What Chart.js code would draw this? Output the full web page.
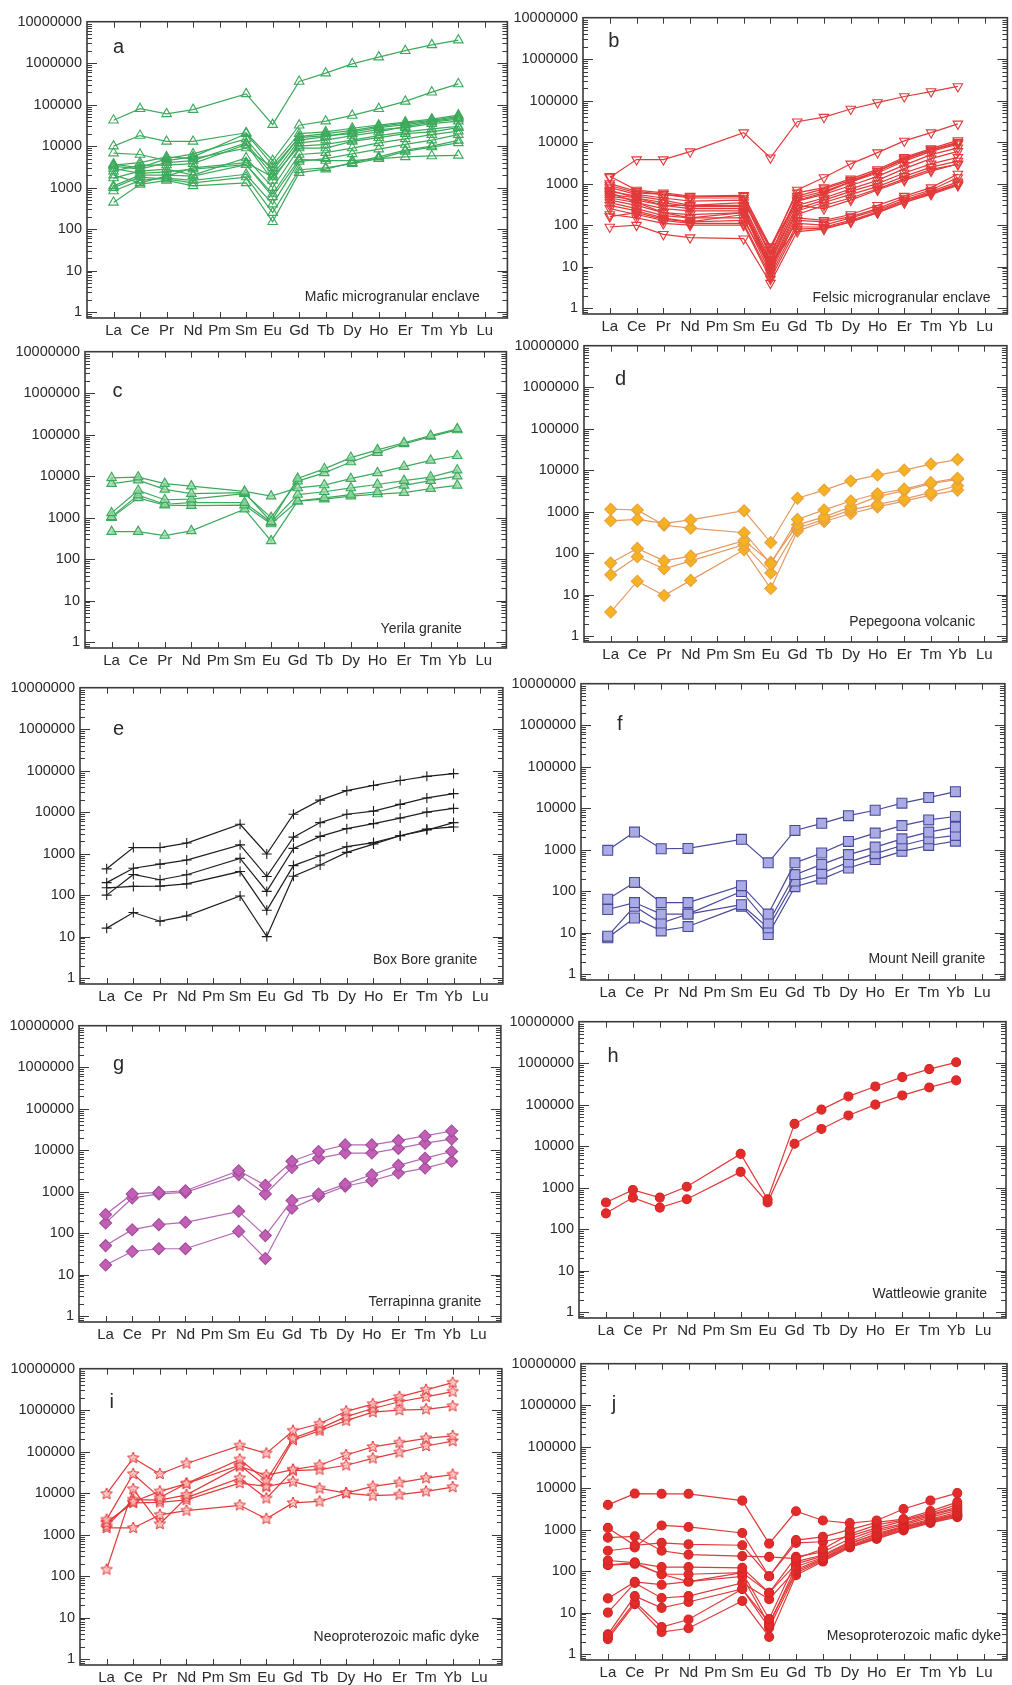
<!DOCTYPE html>
<html lang="en">
<head>
<meta charset="UTF-8">
<title>Chondrite-normalised REE patterns</title>
<script src="https://cdn.jsdelivr.net/npm/chart.js@4.4.1/dist/chart.umd.min.js"></script>
<style>
  body { margin: 0; background: #fff; }
  #wrap { position: relative; width: 1012px; height: 1685px; }
  #wrap canvas { position: absolute; }
</style>
</head>
<body>
<div id="wrap"></div>
<script>
/* x axis positions: all REE, Pm and Lu have no values */
const ELEMENTS = ['La', 'Ce', 'Pr', 'Nd', 'Pm', 'Sm', 'Eu', 'Gd', 'Tb', 'Dy', 'Ho', 'Er', 'Tm', 'Yb', 'Lu']
const MEASURED = ['La', 'Ce', 'Pr', 'Nd', 'Sm', 'Eu', 'Gd', 'Tb', 'Dy', 'Ho', 'Er', 'Tm', 'Yb']
const Y_TICKS = [1, 10, 100, 1000, 10000, 100000, 1000000, 10000000]

/* each row is one sample, values in MEASURED order */
const MAFIC_ENCLAVE = [
  [42000, 80000, 60000, 76000, 182000, 33000, 363000, 575000, 960000, 1400000, 2000000, 2760000, 3600000],
  [10000, 18000, 13000, 13000, 21000, 4500, 32000, 40000, 55000, 80000, 120000, 200000, 316000],
  [6800, 6300, 4500, 5500, 20000, 3500, 20000, 22000, 27000, 32000, 38000, 45000, 56000],
  [3700, 3000, 5000, 6500, 15000, 2500, 17000, 20000, 24000, 30000, 36000, 42000, 52000],
  [3300, 2800, 4000, 4500, 12000, 2000, 14000, 17000, 22000, 28000, 33000, 40000, 48000],
  [2500, 3500, 3500, 3800, 11000, 1500, 12000, 14000, 18000, 22000, 30000, 38000, 45000],
  [3500, 4000, 5500, 5000, 9000, 3000, 16000, 18000, 20000, 25000, 28000, 35000, 40000],
  [2000, 1300, 1900, 3000, 4000, 1800, 10000, 11000, 14000, 18000, 22000, 26000, 30000],
  [1700, 2500, 2800, 2000, 5200, 1000, 9000, 9000, 13000, 16000, 20000, 22000, 28000],
  [1100, 2000, 2000, 1900, 3600, 700, 6300, 7000, 9000, 12000, 15000, 19000, 23000],
  [830, 1500, 1700, 1500, 2100, 400, 4300, 5000, 6500, 8500, 11000, 14000, 19000],
  [1000, 1800, 1600, 1300, 1800, 250, 2700, 3000, 3800, 5000, 7500, 9500, 12000],
  [440, 1200, 1500, 1100, 1300, 150, 2300, 2800, 4000, 5500, 8000, 10000, 13800],
  [2900, 2200, 2400, 2800, 3600, 600, 4800, 4500, 4500, 5000, 5500, 5800, 6000]
]
const FELSIC_ENCLAVE = [
  [1400, 3800, 3800, 5900, 17000, 4200, 31000, 40000, 63000, 90000, 126000, 166000, 220000],
  [1000, 650, 550, 480, 500, 25, 700, 1400, 3000, 5600, 10700, 17000, 27600],
  [1500, 700, 600, 500, 520, 30, 600, 800, 1300, 2200, 4300, 7000, 11000],
  [900, 600, 550, 450, 450, 20, 500, 750, 1200, 2000, 4000, 6500, 10000],
  [800, 550, 450, 380, 400, 18, 450, 650, 1100, 1800, 3500, 6000, 9000],
  [650, 500, 400, 300, 300, 15, 380, 550, 900, 1500, 2800, 5000, 7300],
  [550, 450, 350, 280, 280, 12, 300, 450, 750, 1200, 2300, 4000, 6000],
  [500, 400, 300, 250, 250, 10, 250, 400, 650, 1000, 1800, 3000, 4300],
  [450, 350, 250, 220, 220, 9, 220, 350, 550, 850, 1500, 2500, 3500],
  [400, 300, 200, 180, 200, 8, 180, 300, 450, 750, 1300, 2200, 2900],
  [350, 250, 170, 150, 150, 7, 150, 130, 180, 300, 500, 800, 1700],
  [300, 220, 150, 120, 130, 10, 130, 120, 160, 250, 450, 700, 1400],
  [250, 180, 130, 110, 110, 6, 110, 100, 150, 230, 400, 650, 1100],
  [180, 150, 110, 100, 100, 5, 90, 90, 130, 210, 380, 600, 1000],
  [160, 200, 140, 120, 180, 12, 80, 85, 120, 200, 350, 580, 950],
  [90, 100, 60, 50, 47, 4, 70, 80, 120, 200, 350, 550, 900],
  [700, 450, 300, 300, 350, 30, 400, 600, 1100, 2000, 3800, 6500, 9500],
  [600, 350, 200, 150, 200, 14, 300, 250, 400, 700, 1200, 2000, 3000]
]
const YERILA = [
  [9100, 9500, 6600, 5750, 4300, 3300, 5200, 6100, 8700, 12000, 17000, 24000, 31000],
  [6600, 8000, 4800, 3800, 4000, 800, 8800, 15000, 28000, 43000, 64000, 95000, 138000],
  [1300, 4500, 2700, 2800, 3800, 1000, 7600, 12000, 22000, 37000, 60000, 90000, 130000],
  [1050, 3500, 2100, 2300, 2300, 770, 3600, 4200, 5200, 6300, 7800, 9500, 14000],
  [1000, 3000, 2000, 1950, 2000, 700, 2500, 3000, 3600, 4200, 6000, 7800, 10000],
  [460, 460, 370, 480, 1600, 275, 2500, 2800, 3300, 3700, 4000, 5000, 6000]
]
const PEPEGOONA = [
  [600, 650, 520, 630, 1050, 180, 2100, 3300, 5500, 7600, 10000, 14000, 18000],
  [1140, 1100, 470, 400, 310, 55, 650, 1100, 1800, 2700, 3500, 5000, 6400],
  [58, 130, 65, 85, 200, 60, 480, 750, 1300, 2300, 3200, 4700, 6000],
  [30, 82, 42, 65, 160, 33, 400, 650, 1100, 1500, 2000, 2900, 4200],
  [3.8, 21, 9.5, 22, 120, 14, 340, 580, 900, 1300, 1800, 2500, 3300]
]
const BOX_BORE = [
  [430, 1400, 1400, 1800, 5100, 980, 8900, 19500, 33000, 44000, 58000, 73000, 85000],
  [200, 445, 560, 700, 1630, 280, 2500, 5600, 8900, 10600, 15400, 22000, 28000],
  [100, 315, 235, 310, 770, 123, 1340, 2600, 4000, 5300, 7200, 10000, 12300],
  [150, 162, 165, 187, 370, 43, 515, 890, 1470, 1850, 2700, 3700, 5600],
  [16, 38, 23.5, 31.5, 95, 10, 285, 530, 1070, 1700, 2700, 3900, 4400]
]
const MOUNT_NEILL = [
  [960, 2650, 1050, 1070, 1770, 480, 2900, 4300, 6600, 8900, 13200, 18000, 25000],
  [64, 162, 53, 53, 135, 28, 480, 830, 1580, 2500, 3800, 5200, 6300],
  [36, 53, 28, 28, 98, 17, 250, 440, 760, 1150, 1820, 2650, 3500],
  [8.2, 43, 17, 28, 47, 13, 175, 270, 500, 800, 1260, 1830, 2200],
  [7.5, 22.5, 11, 14, 43, 9, 128, 195, 360, 575, 910, 1260, 1600]
]
const TERRAPINNA = [
  [280, 880, 960, 1050, 3200, 1420, 5400, 9300, 13400, 13400, 17000, 22000, 29000],
  [175, 700, 880, 960, 2550, 880, 3800, 6400, 8500, 8500, 11000, 14700, 18500],
  [50, 121, 160, 182, 335, 87, 610, 880, 1520, 2550, 4300, 6400, 9300],
  [17, 36, 42, 42, 110, 24.5, 400, 770, 1350, 1830, 2800, 3700, 5400]
]
const WATTLEOWIE = [
  [437, 880, 575, 1050, 6500, 525, 34500, 76000, 158000, 275000, 460000, 720000, 1050000],
  [240, 575, 330, 525, 2400, 437, 11400, 26000, 55000, 100000, 167000, 260000, 385000]
]
const NEO_DYKE = [
  [9600, 70000, 29000, 52000, 140000, 91000, 320000, 470000, 940000, 1400000, 2100000, 3100000, 4600000],
  [2300, 29000, 7800, 17000, 65000, 20000, 210000, 360000, 700000, 1100000, 1600000, 2100000, 2800000],
  [1900, 6200, 11000, 17000, 47000, 14500, 190000, 320000, 560000, 900000, 1000000, 1050000, 1250000],
  [1600, 7000, 6800, 9100, 44000, 27000, 37000, 47000, 83000, 130000, 165000, 210000, 240000],
  [144, 12500, 1800, 7800, 23000, 7500, 35000, 37000, 47000, 69000, 96000, 137000, 180000],
  [2000, 5800, 6000, 6900, 17500, 14500, 19000, 13000, 10000, 14500, 18000, 23000, 28000],
  [1450, 1450, 3000, 3800, 5100, 2400, 5800, 6300, 10000, 8700, 9200, 11000, 14000]
]
const MESO_DYKE = [
  [3950, 7400, 7300, 7300, 5000, 460, 2770, 1660, 1440, 1660, 3150, 5000, 7600],
  [1100, 420, 480, 440, 420, 75, 560, 670, 1000, 1500, 1800, 2800, 4600],
  [640, 690, 310, 250, 230, 220, 200, 340, 780, 1300, 1700, 2500, 4000],
  [310, 370, 1260, 1160, 830, 75, 480, 510, 700, 1100, 1600, 2300, 3500],
  [180, 160, 125, 125, 120, 30, 220, 290, 600, 1000, 1400, 2200, 3200],
  [140, 160, 84, 84, 92, 7, 170, 245, 510, 900, 1300, 2000, 2900],
  [140, 150, 84, 56, 75, 5, 130, 210, 450, 800, 1200, 1800, 2600],
  [22, 55, 47, 56, 92, 30, 150, 230, 480, 750, 1150, 1700, 2400],
  [10, 52, 22.5, 25, 52, 21, 110, 200, 420, 700, 1100, 1600, 2300],
  [3, 25, 13, 18, 37, 5.7, 100, 190, 400, 650, 1050, 1550, 2200],
  [2.6, 18, 4.5, 6.8, 37, 4.3, 90, 180, 380, 620, 1000, 1500, 2100],
  [2.3, 16, 3.4, 4.2, 19, 2.6, 80, 170, 370, 600, 960, 1450, 2000]
]

const FONT = '"Liberation Sans", Arial, Helvetica, sans-serif'
const PLOT_H = 298
const Y_MIN = 0.72

/* hollow five-pointed star used as a marker */
function starMarker(size, fill, stroke) {
  const c = document.createElement('canvas')
  c.width = c.height = size
  const g = c.getContext('2d')
  const r = size / 2 - 1
  g.beginPath()
  for (let k = 0; k < 10; k++) {
    const rad = -Math.PI / 2 + k * Math.PI / 5
    const rr = k % 2 ? r * 0.45 : r
    g.lineTo(size / 2 + rr * Math.cos(rad), size / 2 + rr * Math.sin(rad))
  }
  g.closePath()
  g.fillStyle = fill
  g.fill()
  g.strokeStyle = stroke
  g.lineWidth = 1
  g.stroke()
  return c
}

const STYLES = {
  greenOpen: { line: '#3caa5c', point: 'triangle', radius: 5.5, fill: 'rgba(255,255,255,0)', edge: '#3caa5c' },
  greenFill: { line: '#3caa5c', point: 'triangle', radius: 5.5, fill: 'rgba(150,215,165,0.75)', edge: '#3caa5c' },
  redDown: { line: '#e23a3a', point: 'triangle', rotation: 180, radius: 5.5, fill: 'rgba(255,255,255,0)', edge: '#e23a3a' },
  orange: { line: '#e69a62', point: 'rectRot', radius: 6, fill: '#f5b320', edge: '#e8a040' },
  black: { line: '#1e1e1e', point: 'cross', radius: 5, fill: '#1e1e1e', edge: '#1e1e1e' },
  blue: { line: '#4a4a9a', point: 'rect', radius: 7, fill: '#aaaae4', edge: '#4a4a9a' },
  purple: { line: '#b36ab3', point: 'rectRot', radius: 6, fill: '#c25fb5', edge: '#a04c9c' },
  redDot: { line: '#e23a3a', point: 'circle', radius: 4.5, fill: '#e22c2c', edge: '#d42424' },
  redStar: { line: '#e23a3a', point: starMarker(14, 'rgba(255,190,190,0.8)', '#e03030'), radius: 6, fill: '#e22c2c', edge: '#e03030' }
}

/* box: [plot left, pixel of 10^7, plot right]; letter/caption offsets in px */
const PANELS = [
  { letter: 'a', caption: 'Mafic microgranular enclave', rows: MAFIC_ENCLAVE, style: 'greenOpen', col: 0, box: [87, 20, 508], letterAt: [5, 26], captionAt: [-5, 15] },
  { letter: 'b', caption: 'Felsic microgranular enclave', rows: FELSIC_ENCLAVE, style: 'redDown', col: 1, box: [583, 16, 1008], letterAt: [4, 24], captionAt: [6, 10] },
  { letter: 'c', caption: 'Yerila granite', rows: YERILA, style: 'greenFill', col: 0, box: [85, 350, 507], letterAt: [6, 40], captionAt: [-22, 13] },
  { letter: 'd', caption: 'Pepegoona volcanic', rows: PEPEGOONA, style: 'orange', col: 1, box: [584, 344, 1008], letterAt: [10, 34], captionAt: [-9, 14] },
  { letter: 'e', caption: 'Box Bore granite', rows: BOX_BORE, style: 'black', col: 0, box: [80, 686, 503], letterAt: [12, 42], captionAt: [-3, 18] },
  { letter: 'f', caption: 'Mount Neill granite', rows: MOUNT_NEILL, style: 'blue', col: 1, box: [581, 682, 1007], letterAt: [12, 41], captionAt: [3, 15] },
  { letter: 'g', caption: 'Terrapinna granite', rows: TERRAPINNA, style: 'purple', col: 0, box: [79, 1024, 502], letterAt: [13, 39], captionAt: [3, 14] },
  { letter: 'h', caption: 'Wattleowie granite', rows: WATTLEOWIE, style: 'redDot', col: 1, box: [579, 1020, 1006], letterAt: [7, 35], captionAt: [4, 18] },
  { letter: 'i', caption: 'Neoproterozoic mafic dyke', rows: NEO_DYKE, style: 'redStar', col: 0, box: [80, 1367, 503], letterAt: [5, 34], captionAt: [0, 22] },
  { letter: 'j', caption: 'Mesoproterozoic mafic dyke', rows: MESO_DYKE, style: 'redDot', col: 1, box: [581, 1362, 1007], letterAt: [6, 41], captionAt: [17, 18] }
]

/* frame, inward log ticks on both sides, element ticks top and bottom, panel texts */
const frameTicks = {
  id: 'frameTicks',
  beforeDatasetsDraw(chart) {
    const { ctx, chartArea: a, scales: { x, y } } = chart
    ctx.save()
    ctx.strokeStyle = '#3a3a3a'
    ctx.lineWidth = 1
    ctx.beginPath()
    for (let e = -1; e < 7; e++) {
      for (let m = 1; m < 10; m++) {
        const v = m * Math.pow(10, e)
        if (v < y.min || v > y.max) continue
        const py = Math.round(y.getPixelForValue(v)) + 0.5
        const len = m === 1 ? 10 : 5
        ctx.moveTo(a.left, py); ctx.lineTo(a.left + len, py)
        ctx.moveTo(a.right, py); ctx.lineTo(a.right - len, py)
      }
    }
    ELEMENTS.forEach((el, i) => {
      const px = Math.round(x.getPixelForValue(i)) + 0.5
      ctx.moveTo(px, a.top); ctx.lineTo(px, a.top + 6)
      ctx.moveTo(px, a.bottom); ctx.lineTo(px, a.bottom - 6)
    })
    ctx.stroke()
    ctx.lineWidth = 1.6
    ctx.strokeRect(a.left, a.top, a.right - a.left, a.bottom - a.top)
    ctx.restore()
  },
  afterDatasetsDraw(chart, args, opts) {
    const { ctx, chartArea: a, scales: { x, y } } = chart
    ctx.save()
    ctx.fillStyle = '#2a2a2a'
    ctx.textBaseline = 'middle'
    ctx.font = '20px ' + FONT
    ctx.textAlign = 'center'
    ctx.fillText(opts.letter, x.getPixelForValue(0) + opts.letterAt[0], a.top + opts.letterAt[1])
    ctx.font = '14px ' + FONT
    ctx.textAlign = 'right'
    ctx.fillText(opts.caption, x.getPixelForValue(14) + opts.captionAt[0], y.getPixelForValue(1) - opts.captionAt[1])
    ctx.restore()
  }
}

function makePanel(p) {
  const [L, T, R] = p.box
  const padTop = 12
  const axisH = 30
  const left = p.col === 0 ? 0 : 506
  const canvas = document.createElement('canvas')
  canvas.width = R - left + 6
  canvas.height = padTop + PLOT_H + axisH
  canvas.style.left = left + 'px'
  canvas.style.top = (T - padTop) + 'px'
  document.getElementById('wrap').appendChild(canvas)

  const s = STYLES[p.style]
  const datasets = p.rows.map(row => ({
    data: MEASURED.map((el, i) => ({ x: ELEMENTS.indexOf(el), y: row[i] })),
    borderColor: s.line,
    borderWidth: 1.2,
    pointStyle: s.point,
    pointRotation: s.rotation || 0,
    pointRadius: s.radius,
    pointBackgroundColor: s.fill,
    pointBorderColor: s.edge,
    pointBorderWidth: 1.1,
    tension: 0,
    fill: false
  }))

  new Chart(canvas.getContext('2d'), {
    type: 'line',
    data: { datasets },
    plugins: [frameTicks],
    options: {
      responsive: false,
      animation: false,
      events: [],
      layout: { padding: { top: padTop, right: 6, left: 0, bottom: 0 } },
      plugins: {
        legend: { display: false },
        tooltip: { enabled: false },
        frameTicks: { letter: p.letter, caption: p.caption, letterAt: p.letterAt, captionAt: p.captionAt }
      },
      scales: {
        x: {
          type: 'linear',
          bounds: 'data',
          min: -1,
          max: 14.85,
          grid: { display: false, drawTicks: false },
          border: { display: false },
          afterBuildTicks: sc => { sc.ticks = ELEMENTS.map((el, i) => ({ value: i })) },
          afterFit: sc => { sc.height = axisH },
          ticks: {
            autoSkip: false,
            maxRotation: 0,
            padding: 4,
            color: '#2a2a2a',
            font: { size: 15, family: FONT },
            callback: v => ELEMENTS[v] || ''
          }
        },
        y: {
          type: 'logarithmic',
          bounds: 'data',
          min: Y_MIN,
          max: 1e7,
          grid: { display: false, drawTicks: false },
          border: { display: false },
          afterBuildTicks: sc => { sc.ticks = Y_TICKS.map(v => ({ value: v })) },
          afterFit: sc => { sc.width = L - left },
          ticks: {
            autoSkip: false,
            padding: 5,
            color: '#2a2a2a',
            font: { size: 14.5, family: FONT },
            callback: v => String(v)
          }
        }
      }
    }
  })
}

PANELS.forEach(makePanel)
</script>
</body>
</html>
